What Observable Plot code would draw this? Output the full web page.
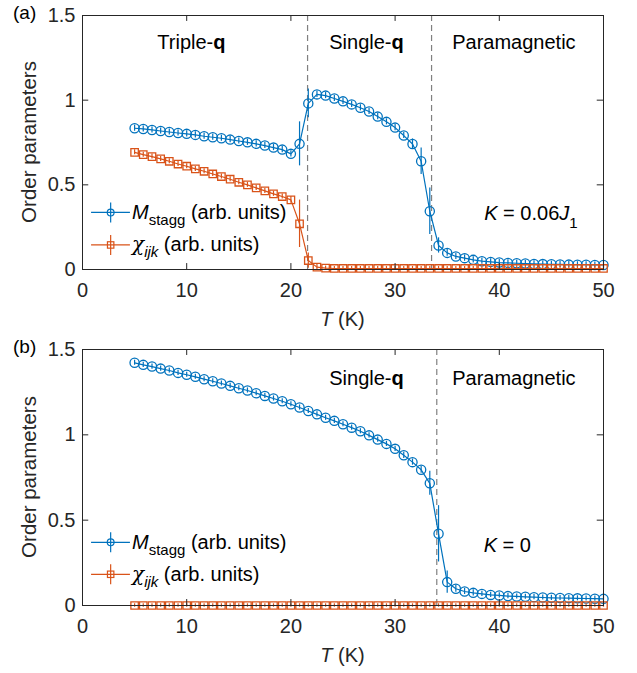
<!DOCTYPE html>
<html><head><meta charset="utf-8">
<script src="https://cdn.jsdelivr.net/npm/d3@7"></script>
<script src="https://cdn.jsdelivr.net/npm/@observablehq/plot@0.6"></script>
<style>
body{margin:0;background:#fff;}
#wrap{width:637px;}
#wrap svg{display:block;}
</style>
</head><body><div id="wrap"></div>
<script>
// ---------- data ----------
const T = [5, 5.83, 6.67, 7.5, 8.33, 9.17, 10, 10.83, 11.67, 12.5, 13.33, 14.17, 15, 15.83, 16.67, 17.5, 18.33, 19.17, 20, 20.83,
  21.67, 22.5, 23.33, 24.17, 25, 25.83, 26.67, 27.5, 28.33, 29.17, 30, 30.83, 31.67, 32.5, 33.33, 34.17, 35, 35.83, 36.67, 37.5,
  38.33, 39.17, 40, 40.83, 41.67, 42.5, 43.33, 44.17, 45, 45.83, 46.67, 47.5, 48.33, 49.17, 50];

// panel (a): K = 0.06 J1
const mStaggA = [0.834, 0.830, 0.824, 0.818, 0.812, 0.806, 0.801, 0.795, 0.787, 0.781, 0.775, 0.767, 0.759, 0.751, 0.742, 0.732, 0.720, 0.708, 0.683, 0.742,
  0.981, 1.034, 1.027, 1.010, 0.993, 0.975, 0.955, 0.933, 0.903, 0.872, 0.838, 0.791, 0.741, 0.639, 0.344, 0.142, 0.098, 0.077, 0.067, 0.057,
  0.049, 0.045, 0.041, 0.039, 0.037, 0.035, 0.033, 0.032, 0.031, 0.030, 0.029, 0.028, 0.028, 0.027, 0.027];
const mErrA = [0.018, 0.018, 0.018, 0.018, 0.018, 0.018, 0.018, 0.018, 0.018, 0.018, 0.018, 0.018, 0.018, 0.018, 0.018, 0.018, 0.018, 0.018, 0.018, 0.13,
  0.085, 0.018, 0.018, 0.018, 0.018, 0.018, 0.018, 0.018, 0.018, 0.018, 0.018, 0.018, 0.03, 0.078, 0.138, 0.045, 0.02, 0.018, 0.018, 0.018,
  0.018, 0.018, 0.018, 0.018, 0.018, 0.018, 0.018, 0.018, 0.018, 0.018, 0.018, 0.018, 0.018, 0.018, 0.018];
const chiA = [0.692, 0.678, 0.667, 0.653, 0.639, 0.623, 0.610, 0.594, 0.580, 0.564, 0.549, 0.533, 0.515, 0.500, 0.482, 0.464, 0.447, 0.431, 0.411, 0.270,
  0.053, 0.014, 0.008, 0.006, 0.006, 0.006, 0.006, 0.006, 0.006, 0.006, 0.006, 0.006, 0.006, 0.006, 0.006, 0.006, 0.006, 0.006, 0.006, 0.006,
  0.006, 0.006, 0.006, 0.006, 0.006, 0.006, 0.006, 0.006, 0.006, 0.006, 0.006, 0.006, 0.006, 0.006, 0.006];
const chiErrA = [0.015, 0.015, 0.015, 0.015, 0.015, 0.015, 0.015, 0.015, 0.015, 0.015, 0.015, 0.015, 0.015, 0.015, 0.015, 0.015, 0.015, 0.015, 0.02, 0.14,
  0.045, 0.015, 0.012, 0.012, 0.012, 0.012, 0.012, 0.012, 0.012, 0.012, 0.012, 0.012, 0.012, 0.012, 0.012, 0.012, 0.012, 0.012, 0.012, 0.012,
  0.012, 0.012, 0.012, 0.012, 0.012, 0.012, 0.012, 0.012, 0.012, 0.012, 0.012, 0.012, 0.012, 0.012, 0.012];
const transA = [21.6, 33.5];

// panel (b): K = 0
const mStaggB = [1.422, 1.410, 1.400, 1.388, 1.377, 1.363, 1.352, 1.340, 1.326, 1.314, 1.301, 1.287, 1.273, 1.260, 1.244, 1.228, 1.213, 1.197, 1.179, 1.160,
  1.140, 1.120, 1.100, 1.082, 1.062, 1.042, 1.021, 0.997, 0.972, 0.947, 0.918, 0.880, 0.840, 0.795, 0.716, 0.420, 0.137, 0.098, 0.082, 0.074,
  0.068, 0.062, 0.059, 0.055, 0.053, 0.051, 0.049, 0.047, 0.045, 0.044, 0.043, 0.042, 0.041, 0.040, 0.039];
const mErrB = [0.015, 0.015, 0.015, 0.015, 0.015, 0.015, 0.015, 0.015, 0.015, 0.015, 0.015, 0.015, 0.015, 0.015, 0.015, 0.015, 0.015, 0.015, 0.015, 0.015,
  0.015, 0.015, 0.015, 0.015, 0.015, 0.015, 0.015, 0.015, 0.015, 0.015, 0.015, 0.018, 0.018, 0.02, 0.07, 0.165, 0.065, 0.02, 0.018, 0.018,
  0.015, 0.015, 0.015, 0.015, 0.015, 0.015, 0.015, 0.015, 0.015, 0.015, 0.015, 0.015, 0.015, 0.015, 0.015];
const chiB = [0, 0, 0, 0, 0, 0, 0, 0, 0, 0, 0, 0, 0, 0, 0, 0, 0, 0, 0, 0,
  0, 0, 0, 0, 0, 0, 0, 0, 0, 0, 0, 0, 0, 0, 0, 0, 0, 0, 0, 0,
  0, 0, 0, 0, 0, 0, 0, 0, 0, 0, 0, 0, 0, 0, 0];
const chiErrB = [0.01, 0.01, 0.01, 0.01, 0.01, 0.01, 0.01, 0.01, 0.01, 0.01, 0.01, 0.01, 0.01, 0.01, 0.01, 0.01, 0.01, 0.01, 0.01, 0.01,
  0.01, 0.01, 0.01, 0.01, 0.01, 0.01, 0.01, 0.01, 0.01, 0.01, 0.01, 0.01, 0.01, 0.01, 0.01, 0.01, 0.01, 0.01, 0.01, 0.01,
  0.01, 0.01, 0.01, 0.01, 0.01, 0.01, 0.01, 0.01, 0.01, 0.01, 0.01, 0.01, 0.01, 0.01, 0.01];
const transB = [34.0];

const xTicks = [0, 10, 20, 30, 40, 50];
const yTicks = [0, 0.5, 1, 1.5];

// ---------- style ----------
const FONT = "'Liberation Sans', Arial, Helvetica, sans-serif";
const INK = "#262626";
const BLUE = "#0072BD", ORANGE = "#D95319", DASH = "#808080";

function rich(svg, x, y, parts, opts = {}) {
  const t = svg.append("text")
    .attr("x", x).attr("y", y)
    .attr("text-anchor", opts.anchor || "start")
    .attr("font-family", FONT)
    .attr("font-size", opts.size || 20)
    .attr("fill", opts.fill || "#000");
  if (opts.transform) t.attr("transform", opts.transform);
  for (const p of parts) {
    const ts = t.append("tspan").text(p.t);
    if (p.i) ts.attr("font-style", "italic");
    if (p.b) ts.attr("font-weight", "bold");
    if (p.s) ts.attr("font-size", p.s);
    if (p.dy) ts.attr("dy", p.dy);
    if (p.f) ts.attr("font-family", p.f);
  }
  return t;
}

function makePanel(o) {
  const dm = T.map((t, i) => ({T: t, v: o.m[i], e: o.em[i]}));
  const dc = T.map((t, i) => ({T: t, v: o.c[i], e: o.ec[i]}));
  const chart = Plot.plot({
    width: 637, height: o.height,
    marginLeft: 82, marginRight: 34, marginTop: o.marginTop, marginBottom: o.marginBottom,
    style: {fontFamily: FONT, fontSize: "20px", color: INK, background: "#fff", overflow: "visible"},
    x: {domain: [0, 50]},
    y: {domain: [0, 1.5]},
    marks: [
      Plot.ruleX(o.trans, {x: d => d, stroke: DASH, strokeWidth: 1.2, strokeDasharray: "6,4"}),
      // M_stagg
      Plot.line(dm, {x: "T", y: "v", stroke: BLUE, strokeWidth: 1.2}),
      Plot.ruleX(dm, {x: "T", y1: d => d.v - d.e, y2: d => d.v + d.e, stroke: BLUE, strokeWidth: 1.2}),
      Plot.dot(dm, {x: "T", y: "v", r: 4.6, stroke: BLUE, fill: "none", strokeWidth: 1.3}),
      // chi_ijk
      Plot.line(dc, {x: "T", y: "v", stroke: ORANGE, strokeWidth: 1.2}),
      Plot.ruleX(dc, {x: "T", y1: d => d.v - d.e, y2: d => d.v + d.e, stroke: ORANGE, strokeWidth: 1.2}),
      Plot.dot(dc, {x: "T", y: "v", r: 4.2, symbol: "square", stroke: ORANGE, fill: "none", strokeWidth: 1.3}),
      // box and inward ticks
      Plot.frame({stroke: INK, strokeWidth: 1}),
      Plot.ruleX(xTicks, {x: d => d, y1: 0, y2: 0.035, stroke: INK}),
      Plot.ruleX(xTicks, {x: d => d, y1: 1.465, y2: 1.5, stroke: INK}),
      Plot.ruleY(yTicks, {y: d => d, x1: 0, x2: 0.6, stroke: INK}),
      Plot.ruleY(yTicks, {y: d => d, x1: 49.4, x2: 50, stroke: INK}),
      Plot.axisX(xTicks, {tickSize: 0, tickPadding: 13, label: null, tickFormat: d => String(d), fill: INK}),
      Plot.axisY(yTicks, {tickSize: 0, tickPadding: 7, label: null, tickFormat: d => String(d), fill: INK})
    ]
  });
  const svg = d3.select(chart);
  const xs = chart.scale("x"), ys = chart.scale("y");
  const sx = v => xs.range[0] + (v - xs.domain[0]) / (xs.domain[1] - xs.domain[0]) * (xs.range[1] - xs.range[0]);
  const sy = v => ys.range[0] + (v - ys.domain[0]) / (ys.domain[1] - ys.domain[0]) * (ys.range[1] - ys.range[0]);

  // panel letter
  rich(svg, 13, sy(1.5) + 4, [{t: o.letter}], {size: 19});
  // axis labels
  rich(svg, sx(25), sy(0) + 57, [{t: "T", i: 1}, {t: " (K)"}], {anchor: "middle", fill: INK});
  rich(svg, 0, 0, [{t: "Order parameters"}], {anchor: "middle", fill: INK, size: 20.5,
    transform: `translate(36,${(sy(0) + sy(1.5)) / 2}) rotate(-90)`});

  // region annotations
  for (const a of o.regions) {
    const parts = a.q ? [{t: a.label}, {t: "q", b: 1}] : [{t: a.label}];
    rich(svg, sx(a.T), sy(a.v), parts, {anchor: "middle"});
  }
  // K label
  rich(svg, sx(o.kPos[0]), sy(o.kPos[1]), o.kParts);

  // legend
  const L = [
    {color: BLUE, sym: "circle", v: o.legendRows[0],
      parts: [{t: "M", i: 1}, {t: "stagg", s: 15, dy: 6}, {t: " (arb. units)", dy: -6}]},
    {color: ORANGE, sym: "square", v: o.legendRows[1],
      parts: [{t: "χ", i: 1, f: "'DejaVu Serif', serif"}, {t: "ijk", i: 1, s: 15, dy: 6}, {t: " (arb. units)", dy: -6}]}
  ];
  for (const l of L) {
    const yy = sy(l.v), x0 = sx(0.87), x1 = sx(4.6), xm = sx(2.75);
    svg.append("line").attr("x1", x0).attr("x2", x1).attr("y1", yy).attr("y2", yy).attr("stroke", l.color).attr("stroke-width", 1.2);
    svg.append("line").attr("x1", xm).attr("x2", xm).attr("y1", yy - 10).attr("y2", yy + 10).attr("stroke", l.color).attr("stroke-width", 1.2);
    if (l.sym === "circle") svg.append("circle").attr("cx", xm).attr("cy", yy).attr("r", 3.4).attr("fill", "none").attr("stroke", l.color).attr("stroke-width", 1.2);
    else svg.append("rect").attr("x", xm - 3.2).attr("y", yy - 3.2).attr("width", 6.4).attr("height", 6.4).attr("fill", "none").attr("stroke", l.color).attr("stroke-width", 1.2);
    rich(svg, sx(4.8), yy + 6.5, l.parts, {size: 20});
  }
  return chart;
}

const wrap = document.getElementById("wrap");
wrap.appendChild(makePanel({
  letter: "(a)", height: 336, marginTop: 15, marginBottom: 67,
  m: mStaggA, em: mErrA, c: chiA, ec: chiErrA, trans: transA,
  regions: [{label: "Triple-", q: 1, T: 10.5, v: 1.30}, {label: "Single-", q: 1, T: 27.3, v: 1.30}, {label: "Paramagnetic", T: 41.45, v: 1.30}],
  kPos: [38.6, 0.289],
  kParts: [{t: "K", i: 1}, {t: " = 0.06"}, {t: "J", i: 1}, {t: "1", s: 15, dy: 8}],
  legendRows: [0.334, 0.142]
}));
wrap.appendChild(makePanel({
  letter: "(b)", height: 337, marginTop: 13, marginBottom: 68,
  m: mStaggB, em: mErrB, c: chiB, ec: chiErrB, trans: transB,
  regions: [{label: "Single-", q: 1, T: 27.3, v: 1.289}, {label: "Paramagnetic", T: 41.45, v: 1.289}],
  kPos: [38.55, 0.312],
  kParts: [{t: "K", i: 1}, {t: " = 0"}],
  legendRows: [0.367, 0.18]
}));
</script></body></html>
